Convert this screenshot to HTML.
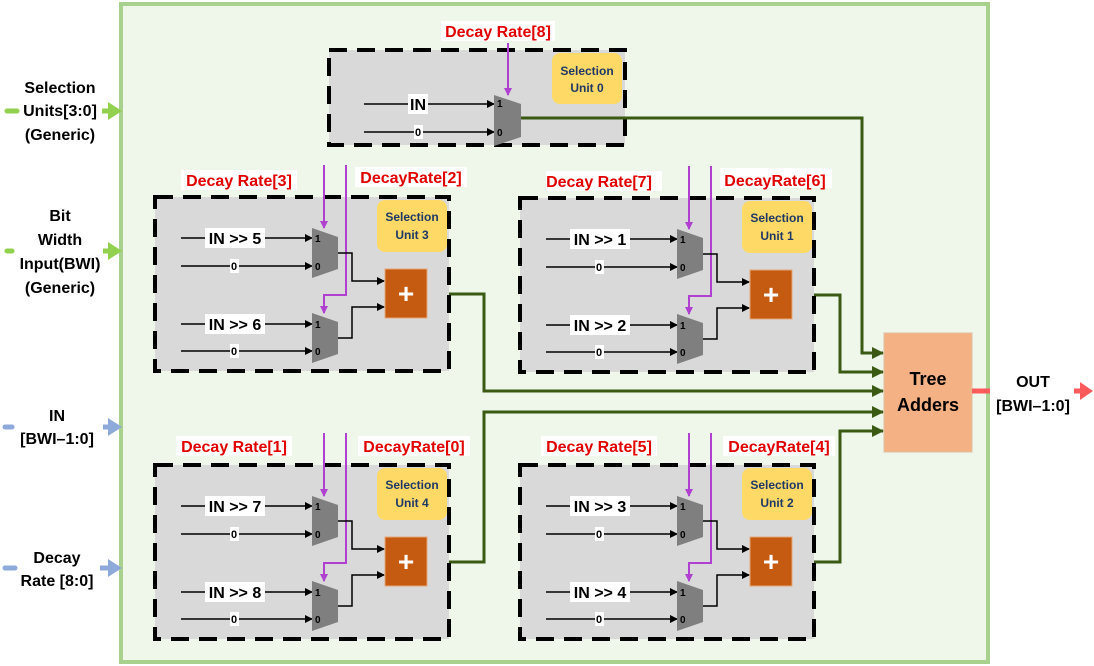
<!DOCTYPE html>
<html><head><meta charset="utf-8"><style>
body{margin:0;background:#fff}
svg{display:block;font-family:"Liberation Sans",sans-serif;font-weight:bold}
.r{fill:#e00000;font-size:16px;text-anchor:middle}
.s{fill:#1f3864;font-size:12px;text-anchor:middle}
.k{font-size:16px;text-anchor:middle}
.z{font-size:11px;text-anchor:middle}
.m{font-size:10px}
.L{font-size:16px;text-anchor:middle;fill:#000}
</style></head><body>
<svg width="1094" height="666" viewBox="0 0 1094 666">
<defs>
<marker id="a" markerWidth="8" markerHeight="8" refX="7" refY="4" orient="auto" markerUnits="userSpaceOnUse"><path d="M0,0 L8,4 L0,8z" fill="#000"/></marker>
<marker id="p" markerWidth="8" markerHeight="8" refX="7" refY="4" orient="auto" markerUnits="userSpaceOnUse"><path d="M0,0 L8,4 L0,8z" fill="#b040d0"/></marker>
<marker id="g" markerWidth="12" markerHeight="12" refX="11" refY="6" orient="auto" markerUnits="userSpaceOnUse"><path d="M0,0 L12,6 L0,12z" fill="#3a5a14"/></marker>
</defs>
<rect x="121" y="4" width="867" height="658" fill="#eff6ea" stroke="#a9d18e" stroke-width="4"/>
<!-- left labels -->
<line x1="7" y1="111" x2="17" y2="111" stroke="#92d050" stroke-width="5" stroke-linecap="round"/><line x1="102" y1="111" x2="110" y2="111" stroke="#92d050" stroke-width="5"/><path d="M108,102 L122,111 L108,120z" fill="#92d050"/>
<text class="L" x="60" y="93">Selection</text><text class="L" x="60" y="116">Units[3:0]</text><text class="L" x="60" y="140">(Generic)</text>
<text class="L" x="60" y="221">Bit</text><text class="L" x="60" y="245">Width</text><text class="L" x="60" y="269">Input(BWI)</text><text class="L" x="60" y="293">(Generic)</text>
<line x1="7" y1="251" x2="12" y2="251" stroke="#92d050" stroke-width="5" stroke-linecap="round"/><line x1="103" y1="251" x2="110" y2="251" stroke="#92d050" stroke-width="5"/><path d="M108,242 L122,251 L108,260z" fill="#92d050"/>
<text class="L" x="57" y="421">IN</text><text class="L" x="57" y="444">[BWI–1:0]</text>
<line x1="5" y1="427" x2="12" y2="427" stroke="#8eaadb" stroke-width="5" stroke-linecap="round"/><line x1="103" y1="427" x2="110" y2="427" stroke="#8eaadb" stroke-width="5"/><path d="M108,418 L122,427 L108,436z" fill="#8eaadb"/>
<text class="L" x="57" y="563">Decay</text><text class="L" x="57" y="586">Rate [8:0]</text>
<line x1="5" y1="568" x2="15" y2="568" stroke="#8eaadb" stroke-width="5" stroke-linecap="round"/><line x1="100" y1="568" x2="110" y2="568" stroke="#8eaadb" stroke-width="5"/><path d="M108,559 L122,568 L108,577z" fill="#8eaadb"/>

<!-- unit 0 -->
<rect x="329" y="50" width="296" height="95" fill="#d9d9d9" stroke="#000" stroke-width="4" stroke-dasharray="18 10"/>
<rect x="552" y="53" width="70" height="51" rx="8" fill="#ffd966"/>
<text class="s" x="587" y="75">Selection</text><text class="s" x="587" y="92">Unit 0</text>
<rect x="441" y="21" width="114" height="20" fill="#fff"/><text class="r" x="498" y="37">Decay Rate[8]</text>
<line x1="508" y1="43" x2="508" y2="95" stroke="#b040d0" stroke-width="2" marker-end="url(#p)"/>
<line x1="364" y1="104" x2="494" y2="104" stroke="#000" stroke-width="1.5" marker-end="url(#a)"/>
<rect x="408" y="94" width="20" height="20" fill="#fff"/><text class="k" x="418" y="110">IN</text>
<line x1="364" y1="132" x2="494" y2="132" stroke="#000" stroke-width="1.5" marker-end="url(#a)"/>
<rect x="414" y="125" width="9" height="14" fill="#fff"/><text class="z" x="418" y="136">0</text>
<polygon points="494,95 521,104 521,137 494,146" fill="#7f7f7f"/>
<text class="m" x="497" y="107">1</text><text class="m" x="497" y="136">0</text>

<!-- green connections -->
<g fill="none" stroke="#3a5a14" stroke-width="3">
<path d="M521,118 H862 V353 H883" marker-end="url(#g)"/>
<path d="M427,294 H484 V391 H883" marker-end="url(#g)"/>
<path d="M792,295 H840 V372 H883" marker-end="url(#g)"/>
<path d="M427,562 H484 V412 H883" marker-end="url(#g)"/>
<path d="M792,562 H840 V431 H883" marker-end="url(#g)"/>
</g>

<g>
<rect x="155" y="197" width="294" height="174" fill="#d9d9d9" stroke="#000" stroke-width="4" stroke-dasharray="18 10"/>
<rect x="377" y="200" width="70" height="52" rx="8" fill="#ffd966"/>
<text class="s" x="412" y="221">Selection</text><text class="s" x="412" y="239">Unit 3</text>
<rect x="181" y="170" width="116" height="20" fill="#fff"/><text class="r" x="239" y="186">Decay Rate[3]</text>
<rect x="355" y="167" width="112" height="20" fill="#fff"/><text class="r" x="411" y="183">DecayRate[2]</text>
<line x1="324" y1="165" x2="324" y2="228" stroke="#b040d0" stroke-width="2" marker-end="url(#p)"/>
<path d="M346,165 V295 H324 V313" fill="none" stroke="#b040d0" stroke-width="2" marker-end="url(#p)"/>
<g stroke="#000" stroke-width="1.5" fill="none">
<line x1="181" y1="238" x2="312" y2="238" marker-end="url(#a)"/>
<line x1="181" y1="266" x2="312" y2="266" marker-end="url(#a)"/>
<line x1="181" y1="324" x2="312" y2="324" marker-end="url(#a)"/>
<line x1="181" y1="351" x2="312" y2="351" marker-end="url(#a)"/>
<path d="M338,253 H352 V281 H384" marker-end="url(#a)"/>
<path d="M338,338 H352 V307 H384" marker-end="url(#a)"/>
</g>
<rect x="205" y="228" width="60" height="20" fill="#fff"/><text class="k" x="235" y="244">IN &gt;&gt; 5</text>
<rect x="205" y="314" width="60" height="20" fill="#fff"/><text class="k" x="235" y="330">IN &gt;&gt; 6</text>
<rect x="230" y="259" width="9" height="14" fill="#fff"/><text class="z" x="234" y="270">0</text>
<rect x="230" y="344" width="9" height="14" fill="#fff"/><text class="z" x="234" y="355">0</text>
<polygon points="312,228 338,237 338,269 312,278" fill="#7f7f7f"/>
<polygon points="312,313 338,322 338,354 312,363" fill="#7f7f7f"/>
<text class="m" x="315" y="242">1</text><text class="m" x="315" y="270">0</text>
<text class="m" x="315" y="328">1</text><text class="m" x="315" y="355">0</text>
<rect x="385" y="269" width="42" height="49" fill="#c55a11" stroke="#e8a878" stroke-width="1"/>
<text x="406" y="303" fill="#fff" font-size="28" text-anchor="middle">+</text>
</g>

<g transform="translate(365,1)">
<rect x="155" y="197" width="294" height="174" fill="#d9d9d9" stroke="#000" stroke-width="4" stroke-dasharray="18 10"/>
<rect x="377" y="200" width="70" height="52" rx="8" fill="#ffd966"/>
<text class="s" x="412" y="221">Selection</text><text class="s" x="412" y="239">Unit 1</text>
<rect x="181" y="170" width="116" height="20" fill="#fff"/><text class="r" x="234" y="186">Decay Rate[7]</text>
<rect x="355" y="167" width="112" height="20" fill="#fff"/><text class="r" x="410" y="185">DecayRate[6]</text>
<line x1="324" y1="165" x2="324" y2="228" stroke="#b040d0" stroke-width="2" marker-end="url(#p)"/>
<path d="M346,165 V295 H324 V313" fill="none" stroke="#b040d0" stroke-width="2" marker-end="url(#p)"/>
<g stroke="#000" stroke-width="1.5" fill="none">
<line x1="181" y1="238" x2="312" y2="238" marker-end="url(#a)"/>
<line x1="181" y1="266" x2="312" y2="266" marker-end="url(#a)"/>
<line x1="181" y1="324" x2="312" y2="324" marker-end="url(#a)"/>
<line x1="181" y1="351" x2="312" y2="351" marker-end="url(#a)"/>
<path d="M338,253 H352 V281 H384" marker-end="url(#a)"/>
<path d="M338,338 H352 V307 H384" marker-end="url(#a)"/>
</g>
<rect x="205" y="228" width="60" height="20" fill="#fff"/><text class="k" x="235" y="244">IN &gt;&gt; 1</text>
<rect x="205" y="314" width="60" height="20" fill="#fff"/><text class="k" x="235" y="330">IN &gt;&gt; 2</text>
<rect x="230" y="259" width="9" height="14" fill="#fff"/><text class="z" x="234" y="270">0</text>
<rect x="230" y="344" width="9" height="14" fill="#fff"/><text class="z" x="234" y="355">0</text>
<polygon points="312,228 338,237 338,269 312,278" fill="#7f7f7f"/>
<polygon points="312,313 338,322 338,354 312,363" fill="#7f7f7f"/>
<text class="m" x="315" y="242">1</text><text class="m" x="315" y="270">0</text>
<text class="m" x="315" y="328">1</text><text class="m" x="315" y="355">0</text>
<rect x="385" y="269" width="42" height="49" fill="#c55a11" stroke="#e8a878" stroke-width="1"/>
<text x="406" y="303" fill="#fff" font-size="28" text-anchor="middle">+</text>
</g>

<g transform="translate(0,268)">
<rect x="155" y="197" width="294" height="174" fill="#d9d9d9" stroke="#000" stroke-width="4" stroke-dasharray="18 10"/>
<rect x="377" y="200" width="70" height="52" rx="8" fill="#ffd966"/>
<text class="s" x="412" y="221">Selection</text><text class="s" x="412" y="239">Unit 4</text>
<rect x="176" y="168" width="116" height="20" fill="#fff"/><text class="r" x="234" y="184">Decay Rate[1]</text>
<rect x="358" y="168" width="112" height="20" fill="#fff"/><text class="r" x="414" y="184">DecayRate[0]</text>
<line x1="324" y1="165" x2="324" y2="228" stroke="#b040d0" stroke-width="2" marker-end="url(#p)"/>
<path d="M346,165 V295 H324 V313" fill="none" stroke="#b040d0" stroke-width="2" marker-end="url(#p)"/>
<g stroke="#000" stroke-width="1.5" fill="none">
<line x1="181" y1="238" x2="312" y2="238" marker-end="url(#a)"/>
<line x1="181" y1="266" x2="312" y2="266" marker-end="url(#a)"/>
<line x1="181" y1="324" x2="312" y2="324" marker-end="url(#a)"/>
<line x1="181" y1="351" x2="312" y2="351" marker-end="url(#a)"/>
<path d="M338,253 H352 V281 H384" marker-end="url(#a)"/>
<path d="M338,338 H352 V307 H384" marker-end="url(#a)"/>
</g>
<rect x="205" y="228" width="60" height="20" fill="#fff"/><text class="k" x="235" y="244">IN &gt;&gt; 7</text>
<rect x="205" y="314" width="60" height="20" fill="#fff"/><text class="k" x="235" y="330">IN &gt;&gt; 8</text>
<rect x="230" y="259" width="9" height="14" fill="#fff"/><text class="z" x="234" y="270">0</text>
<rect x="230" y="344" width="9" height="14" fill="#fff"/><text class="z" x="234" y="355">0</text>
<polygon points="312,228 338,237 338,269 312,278" fill="#7f7f7f"/>
<polygon points="312,313 338,322 338,354 312,363" fill="#7f7f7f"/>
<text class="m" x="315" y="242">1</text><text class="m" x="315" y="270">0</text>
<text class="m" x="315" y="328">1</text><text class="m" x="315" y="355">0</text>
<rect x="385" y="269" width="42" height="49" fill="#c55a11" stroke="#e8a878" stroke-width="1"/>
<text x="406" y="303" fill="#fff" font-size="28" text-anchor="middle">+</text>
</g>

<g transform="translate(365,268)">
<rect x="155" y="197" width="294" height="174" fill="#d9d9d9" stroke="#000" stroke-width="4" stroke-dasharray="18 10"/>
<rect x="377" y="200" width="70" height="52" rx="8" fill="#ffd966"/>
<text class="s" x="412" y="221">Selection</text><text class="s" x="412" y="239">Unit 2</text>
<rect x="176" y="168" width="116" height="20" fill="#fff"/><text class="r" x="234" y="184">Decay Rate[5]</text>
<rect x="358" y="168" width="112" height="20" fill="#fff"/><text class="r" x="414" y="184">DecayRate[4]</text>
<line x1="324" y1="165" x2="324" y2="228" stroke="#b040d0" stroke-width="2" marker-end="url(#p)"/>
<path d="M346,165 V295 H324 V313" fill="none" stroke="#b040d0" stroke-width="2" marker-end="url(#p)"/>
<g stroke="#000" stroke-width="1.5" fill="none">
<line x1="181" y1="238" x2="312" y2="238" marker-end="url(#a)"/>
<line x1="181" y1="266" x2="312" y2="266" marker-end="url(#a)"/>
<line x1="181" y1="324" x2="312" y2="324" marker-end="url(#a)"/>
<line x1="181" y1="351" x2="312" y2="351" marker-end="url(#a)"/>
<path d="M338,253 H352 V281 H384" marker-end="url(#a)"/>
<path d="M338,338 H352 V307 H384" marker-end="url(#a)"/>
</g>
<rect x="205" y="228" width="60" height="20" fill="#fff"/><text class="k" x="235" y="244">IN &gt;&gt; 3</text>
<rect x="205" y="314" width="60" height="20" fill="#fff"/><text class="k" x="235" y="330">IN &gt;&gt; 4</text>
<rect x="230" y="259" width="9" height="14" fill="#fff"/><text class="z" x="234" y="270">0</text>
<rect x="230" y="344" width="9" height="14" fill="#fff"/><text class="z" x="234" y="355">0</text>
<polygon points="312,228 338,237 338,269 312,278" fill="#7f7f7f"/>
<polygon points="312,313 338,322 338,354 312,363" fill="#7f7f7f"/>
<text class="m" x="315" y="242">1</text><text class="m" x="315" y="270">0</text>
<text class="m" x="315" y="328">1</text><text class="m" x="315" y="355">0</text>
<rect x="385" y="269" width="42" height="49" fill="#c55a11" stroke="#e8a878" stroke-width="1"/>
<text x="406" y="303" fill="#fff" font-size="28" text-anchor="middle">+</text>
</g>

<!-- tree adders -->
<rect x="884" y="333" width="88" height="119" fill="#f4b183" stroke="#e0c0a0" stroke-width="1"/>
<text x="928" y="385" font-size="18" text-anchor="middle">Tree</text>
<text x="928" y="411" font-size="18" text-anchor="middle">Adders</text>
<rect x="991" y="370" width="80" height="44" fill="#fff"/>
<line x1="972" y1="391" x2="990" y2="391" stroke="#ff5b5b" stroke-width="5"/>
<line x1="1074" y1="391" x2="1082" y2="391" stroke="#ff5b5b" stroke-width="5"/>
<path d="M1080,382 L1093,391 L1080,400z" fill="#ff5b5b"/>
<text class="L" x="1033" y="387">OUT</text><text class="L" x="1033" y="411">[BWI–1:0]</text>
</svg>
</body></html>
